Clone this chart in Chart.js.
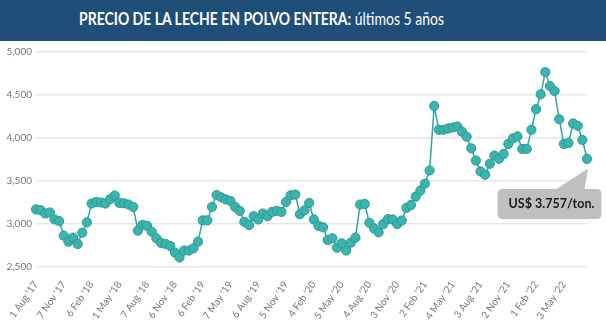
<!DOCTYPE html>
<html>
<head>
<meta charset="utf-8">
<script src="https://cdn.jsdelivr.net/npm/chart.js@4"></script>
<style>
  html, body { margin: 0; padding: 0; background: #fff; }
  body { width: 606px; height: 325px; position: relative; overflow: hidden; font-family: Lato, "Open Sans", sans-serif; }
  #titlebar { position: absolute; left: 0; top: 0; width: 606px; height: 41px; background: #1F4E79; }
  #title { position: absolute; left: 79px; top: 9px; color: #fff; font-size: 16.5px; white-space: nowrap; transform-origin: 0 50%; line-height: 20px; }
  #title b { font-weight: 700; }
  #wrap { position: absolute; left: 0; top: 42px; width: 606px; height: 283px; }
</style>
</head>
<body>
<div id="titlebar"><div id="title"><b>PRECIO DE LA LECHE EN POLVO ENTERA:</b> últimos 5 años</div></div>
<div id="wrap"><canvas id="c"></canvas></div>
<script>
// Tick labels shown on the x axis (one every 6 auctions)
const tickLabels = ["1 Aug '17","7 Nov '17","6 Feb '18","1 May '18","7 Aug '18","6 Nov '18","6 Feb '19","7 May '19","6 Aug '19","5 Nov '19","4 Feb '20","5 May '20","4 Aug '20","3 Nov '20","2 Feb '21","4 May '21","3 Aug '21","2 Nov '21","1 Feb '22","3 May '22"];
const tickEvery = 6;
// Whole milk powder price, US$/ton, per auction
const prices = [
  3170,3160,3122,3134,3053,3034,2864,2795,2841,2768,
  2899,3019,3238,3257,3250,3238,3288,3330,3245,3241,
  3226,3199,2922,2991,2979,2910,2834,2780,2768,2745,
  2668,2610,2691,2691,2718,2795,3042,3042,3199,3337,
  3310,3286,3268,3199,3153,3025,2987,3091,3053,3122,
  3091,3141,3153,3141,3257,3334,3342,3114,3160,3245,
  3053,2979,2961,2814,2834,2725,2776,2691,2783,2841,
  3226,3233,3014,2949,2903,2999,3057,3053,2999,3040,
  3187,3222,3318,3388,3469,3622,4373,4096,4096,4111,
  4122,4134,4073,4015,3880,3738,3611,3573,3700,3796,
  3758,3815,3931,3996,4019,3873,3873,4096,4335,4508,
  4766,4604,4546,4219,3931,3942,4169,4142,3977,3757
];
const yTicks = [2500, 3000, 3500, 4000, 4500, 5000];
const calloutText = "US$ 3.757/ton.";

// fit title width to reference
(function(){
  const t = document.getElementById('title');
  const w = t.getBoundingClientRect().width;
  t.style.transform = 'scaleX(' + (365 / w) + ')';
})();

const categories = prices.map((v, i) => (i % tickEvery === 0 && tickLabels[i / tickEvery]) ? tickLabels[i / tickEvery] : '');

const callout = {
  id: 'callout',
  afterDatasetsDraw(chart) {
    const meta = chart.getDatasetMeta(0);
    const pt = meta.data[meta.data.length - 1];
    const px = pt.x, py = pt.y;
    const ctx = chart.ctx;
    ctx.save();
    ctx.fillStyle = '#BFBFBF';
    const L = px - 89.5, R = px + 14.5, T = py + 30, B = py + 60, r = 5;
    ctx.beginPath();
    ctx.moveTo(L + r, T);
    ctx.lineTo(px - 30.5, T);
    ctx.lineTo(px + 1, py + 9.5);
    ctx.lineTo(px - 2.5, T);
    ctx.lineTo(R - r, T);
    ctx.quadraticCurveTo(R, T, R, T + r);
    ctx.lineTo(R, B - r);
    ctx.quadraticCurveTo(R, B, R - r, B);
    ctx.lineTo(L + r, B);
    ctx.quadraticCurveTo(L, B, L, B - r);
    ctx.lineTo(L, T + r);
    ctx.quadraticCurveTo(L, T, L + r, T);
    ctx.closePath();
    ctx.fill();
    ctx.fillStyle = '#1a1a1a';
    ctx.font = 'bold 12.5px Lato, "Open Sans", sans-serif';
    ctx.textAlign = 'center';
    ctx.textBaseline = 'middle';
    ctx.fillText(calloutText, (L + R) / 2 + 2, (T + B) / 2);
    ctx.restore();
  }
};

new Chart(document.getElementById('c'), {
  type: 'line',
  data: {
    labels: categories,
    datasets: [{
      data: prices,
      borderColor: '#2FA6A0',
      borderWidth: 1.5,
      backgroundColor: '#3BB4AE',
      pointBackgroundColor: '#3BB4AE',
      pointBorderColor: '#2A9A94',
      pointBorderWidth: 1,
      pointRadius: 4.6,
      tension: 0,
      clip: false
    }]
  },
  options: {
    responsive: true,
    maintainAspectRatio: false,
    animation: false,
    events: [],
    layout: { padding: { top: 4, right: 19, bottom: 0, left: 0 } },
    plugins: { legend: { display: false }, tooltip: { enabled: false }, title: { display: false } },
    scales: {
      x: {
        grid: { display: false },
        border: { display: false },
        ticks: {
          autoSkip: false,
          maxRotation: 55,
          minRotation: 55,
          padding: 4,
          color: '#777',
          font: { family: 'Lato, "Open Sans", sans-serif', size: 10 }
        },
        afterFit(scale) { scale.height = 58; }
      },
      y: {
        min: 2500,
        max: 5000,
        afterBuildTicks(scale) { scale.ticks = yTicks.map(v => ({ value: v })); },
        grid: { color: '#E6E6E6', lineWidth: 1.5, drawTicks: false },
        border: { display: false },
        ticks: {
          padding: 4,
          color: '#777',
          font: { family: 'Lato, "Open Sans", sans-serif', size: 10 },
          callback: v => v.toLocaleString('en-US')
        },
        afterFit(scale) { scale.width = 36; }
      }
    }
  },
  plugins: [callout]
});
</script>
</body>
</html>
